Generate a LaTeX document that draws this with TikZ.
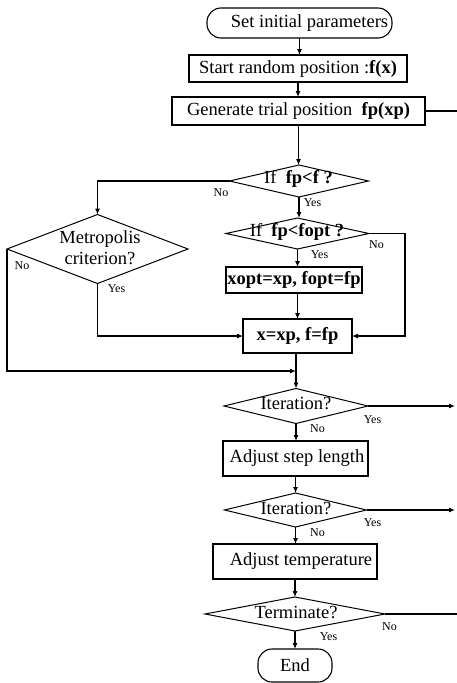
\documentclass[tikz,border=0pt]{standalone}
\usepackage{fontspec}
\setmainfont{Liberation Serif}
\usetikzlibrary{arrows.meta,shapes.geometric}
\begin{document}
\begin{tikzpicture}[x=1pt,y=-1pt,
  every node/.style={inner sep=0pt, outer sep=0pt, font=\fontsize{18.5}{21}\selectfont},
  box/.style={draw, line width=1.1pt, rectangle},
  stadium/.style={draw, line width=1.1pt, rectangle, rounded corners=14pt},
  dec/.style={draw, line width=1pt, diamond},
  lbl/.style={font=\fontsize{12}{13}\selectfont},
  arr/.style={line width=1.1pt, -{Latex[length=6pt,width=5pt]}},
  ln/.style={line width=1.1pt}]
\useasboundingbox (0,0) rectangle (457,683);

% main column
\node[stadium, minimum width=185pt, minimum height=30pt] (start) at (299.5,23) {\makebox[0pt]{\hspace{20pt}Set initial parameters}};
\node[box, minimum width=218pt, minimum height=27pt] (rnd) at (298,68.5) {Start random position :\textbf{f(x)}};
\node[box, minimum width=253pt, minimum height=28pt] (gen) at (298.5,111) {Generate trial position\ \ \textbf{fp(xp)}};

\node[dec, minimum width=139pt, minimum height=32pt] (d1) at (299,181) {};
\node (d1t) at (298.5,179) {If\ \ \textbf{fp<f ?}};

\node[dec, minimum width=143pt, minimum height=31pt] (d2) at (297.5,233.5) {};
\node (d2t) at (297,232) {If\ \ \textbf{fp<fopt ?}};

\node[box, minimum width=136pt, minimum height=26pt] (xopt) at (294,280) {\textbf{xopt=xp, fopt=fp}};
\node[box, minimum width=109pt, minimum height=34pt] (xeq) at (297.5,336) {\textbf{x=xp, f=fp}};

\node[dec, minimum width=181pt, minimum height=69pt] (met) at (97.5,249) {};
\node[align=center] (mett) at (100,248) {Metropolis\\criterion?};

\node[dec, minimum width=144pt, minimum height=35pt] (it1) at (296,406) {};
\node (it1t) at (296,404) {Iteration?};

\node[box, minimum width=145pt, minimum height=35pt] (step) at (295.5,458.5) {\makebox[0pt]{\hspace{3pt}Adjust step length}};

\node[dec, minimum width=142pt, minimum height=34pt] (it2) at (295.5,510) {};
\node (it2t) at (296,508) {Iteration?};

\node[box, minimum width=164pt, minimum height=35pt] (temp) at (295,561.5) {\makebox[0pt]{\hspace{12pt}Adjust temperature}};

\node[dec, minimum width=180pt, minimum height=34pt] (term) at (295,614) {};
\node (termt) at (296,612) {Terminate?};

\node[stadium, minimum width=74pt, minimum height=33pt] (end) at (295,665.5) {End};

% labels
\node[lbl] (l1) at (221,193) {No};
\node[lbl] (l2) at (312.5,203) {Yes};
\node[lbl] (l3) at (376.5,245) {No};
\node[lbl] (l4) at (319.5,255) {Yes};
\node[lbl] (l5) at (22,266) {No};
\node[lbl] (l6) at (116.5,289) {Yes};
\node[lbl] (l7) at (372.5,420) {Yes};
\node[lbl] (l8) at (317.5,429) {No};
\node[lbl] (l9) at (372.5,523) {Yes};
\node[lbl] (l10) at (317.5,533) {No};
\node[lbl] (l11) at (389.5,627) {No};
\node[lbl] (l12) at (328.5,637) {Yes};

% coordinates
\coordinate (r0) at (457,111);
\coordinate (c2) at (405,233.5);
\coordinate (jn) at (296,371);
\coordinate (r1) at (455,406);
\coordinate (r2) at (455,510);
\coordinate (r3) at (457,614);

% connectors
\draw[arr] (start.south) -- (start.south |- rnd.north);
\draw[arr] (rnd.south) -- (rnd.south |- gen.north);
\draw[arr] (gen.south) -- (gen.south |- d1.north);
\draw[ln] (gen.east) -- (r0);
\draw[arr] (d1.south) -- (d1.south |- d2.north);
\draw[arr] (d1.west) -| (met.north);
\draw[arr] (d2.south) -- (d2.south |- xopt.north);
\draw[arr] (d2.east) -- (c2) |- (xeq.east);
\draw[arr] (xopt.south -| xeq.north) -- (xeq.north);
\draw[arr] (met.south) |- (xeq.west);
\draw[arr] (met.west) |- (jn);
\draw[arr] (xeq.south -| it1.north) -- (it1.north);
\draw[arr] (it1.east) -- (r1);
\draw[arr] (it1.south) -- (it1.south |- step.north);
\draw[arr] (step.south -| it2.north) -- (it2.north);
\draw[arr] (it2.east) -- (r2);
\draw[arr] (it2.south) -- (it2.south |- temp.north);
\draw[arr] (temp.south -| term.north) -- (term.north);
\draw[ln] (term.east) -- (r3);
\draw[arr] (term.south) -- (term.south |- end.north);
\end{tikzpicture}
\end{document}
